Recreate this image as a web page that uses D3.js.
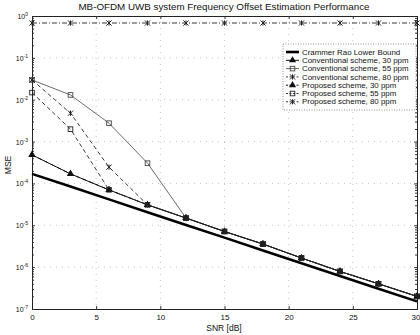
<!DOCTYPE html>
<html>
<head>
<meta charset="utf-8"/>
<title>MB-OFDM UWB</title>
<script src="https://d3js.org/d3.v7.min.js"></script>
<style>
body{margin:0;background:#fff;}
svg{font-family:"Liberation Sans",Arial,sans-serif;}
</style>
</head>
<body>
<div id="chart"></div>
<script>
var snr = [0, 3, 6, 9, 12, 15, 18, 21, 24, 27, 30];
var crb = [1.69e-4, 8.4e-5, 4.16e-5, 2.06e-5, 1.02e-5, 5.07e-6, 2.51e-6, 1.24e-6, 6.17e-7, 3.06e-7, 1.52e-7];
var conv30 = [4.8e-4, 1.69e-4, 7.0e-5, 3.08e-5, 1.49e-5, 7.1e-6, 3.56e-6, 1.65e-6, 7.9e-7, 4.0e-7, 2.0e-7];
var conv55 = [0.0297, 0.0130, 0.00275, 3.05e-4, 1.49e-5, 7.1e-6, 3.56e-6, 1.65e-6, 7.9e-7, 4.0e-7, 2.0e-7];
var conv80 = [0.68, 0.68, 0.68, 0.68, 0.68, 0.68, 0.68, 0.68, 0.68, 0.68, 0.68];
var prop30 = [4.82e-4, 1.69e-4, 7.03e-5, 3.08e-5, 1.49e-5, 7.1e-6, 3.56e-6, 1.65e-6, 7.9e-7, 4.0e-7, 2.0e-7];
var prop55 = [0.0148, 0.00198, 7.03e-5, 3.08e-5, 1.49e-5, 7.1e-6, 3.56e-6, 1.65e-6, 7.9e-7, 4.0e-7, 2.0e-7];
var prop80 = [0.0297, 0.00476, 2.45e-4, 3.08e-5, 1.49e-5, 7.1e-6, 3.56e-6, 1.65e-6, 7.9e-7, 4.0e-7, 2.0e-7];
var xTicks = [0, 5, 10, 15, 20, 25, 30];
var yExps = [0, -1, -2, -3, -4, -5, -6, -7];
var names = ["Crammer Rao Lower Bound", "Conventional scheme, 30 ppm", "Conventional scheme, 55 ppm",
	"Conventional scheme, 80 ppm", "Proposed scheme, 30 ppm", "Proposed scheme, 55 ppm", "Proposed scheme, 80 ppm"];

var W = 420, H = 335;
var L = 32, R = 417, T = 16, B = 309;

var svg = d3.select('#chart').append('svg').attr('width', W).attr('height', H);

var x = d3.scaleLinear().domain([0, 30]).range([L, R]);
var y = d3.scaleLog().domain([1e-7, 1]).range([B, T]);

// grid
var grid = svg.append('g').attr('stroke', '#aaa').attr('stroke-width', 0.7).attr('stroke-dasharray', '1,5');
xTicks.slice(1, -1).forEach(function(t){
	grid.append('line').attr('x1', x(t)).attr('x2', x(t)).attr('y1', T).attr('y2', B);
});
yExps.slice(1, -1).forEach(function(e){
	grid.append('line').attr('x1', L).attr('x2', R).attr('y1', y(Math.pow(10, e))).attr('y2', y(Math.pow(10, e)));
});

// axes
var xAxis = d3.axisBottom(x).tickValues(xTicks).tickSize(-3).tickPadding(5).tickFormat(d3.format('d'));
var gx = svg.append('g').attr('transform', 'translate(0,' + B + ')').call(xAxis);
svg.append('g').attr('transform', 'translate(0,' + T + ')').call(d3.axisTop(x).tickValues(xTicks).tickSize(-3).tickFormat(''));

var minor = [];
for (var e = -7; e < 0; e++) for (var k = 2; k < 10; k++) minor.push(k * Math.pow(10, e));
var major = yExps.map(function(e){return Math.pow(10, e);});
svg.append('g').attr('transform', 'translate(' + L + ',0)').call(d3.axisLeft(y).tickValues(major).tickSize(-3).tickFormat(''));
svg.append('g').attr('transform', 'translate(' + L + ',0)').call(d3.axisLeft(y).tickValues(minor).tickSize(-2).tickFormat(''));
svg.append('g').attr('transform', 'translate(' + R + ',0)').call(d3.axisRight(y).tickValues(major).tickSize(-3).tickFormat(''));
svg.append('g').attr('transform', 'translate(' + R + ',0)').call(d3.axisRight(y).tickValues(minor).tickSize(-2).tickFormat(''));
svg.selectAll('.domain').attr('stroke', '#222');
svg.selectAll('.tick line').attr('stroke', '#333');
gx.selectAll('text').attr('font-size', 8).attr('fill', '#111')
	.attr('text-anchor', function(d){return d === 30 ? 'end' : 'middle';})
	.attr('dx', function(d){return d === 30 ? 3 : 0;});

// y tick labels 10^e
yExps.forEach(function(e){
	var t = svg.append('text').attr('x', L - 4).attr('y', y(Math.pow(10, e)) + 3)
		.attr('text-anchor', 'end').attr('font-size', 7).attr('fill', '#111');
	t.append('tspan').text('10');
	t.append('tspan').attr('dy', -3).attr('font-size', 5).text(e);
});

// titles
svg.append('text').attr('x', 224).attr('y', 10).attr('text-anchor', 'middle').attr('font-size', 9.8).attr('fill', '#111')
	.text('MB-OFDM UWB system Frequency Offset Estimation Performance');
svg.append('text').attr('x', 224).attr('y', 331).attr('text-anchor', 'middle').attr('font-size', 8.5).attr('fill', '#111')
	.text('SNR [dB]');
svg.append('text').attr('transform', 'translate(11,165) rotate(-90)').attr('text-anchor', 'middle').attr('font-size', 8.5).attr('fill', '#111')
	.text('MSE');

// series
var series = [
	{v: crb, w: 2.6, dash: null, col: '#000', m: null},
	{v: conv30, w: 1, dash: null, col: '#111', m: 'tri'},
	{v: conv55, w: 0.8, dash: null, col: '#444', m: 'sq'},
	{v: conv80, w: 0.9, dash: '5,2,1,2', col: '#222', m: 'ast'},
	{v: prop30, w: 1, dash: '4,3', col: '#111', m: 'tri'},
	{v: prop55, w: 0.9, dash: '4,3', col: '#222', m: 'sq'},
	{v: prop80, w: 0.9, dash: '4,3', col: '#222', m: 'ast'}
];

var line = d3.line().x(function(d, i){return x(snr[i]);}).y(function(d){return y(d);});

function marker(g, type, cx, cy, col){
	if (type === 'tri'){
		g.append('path').attr('d', d3.symbol().type(d3.symbolTriangle).size(22)())
			.attr('transform', 'translate(' + cx + ',' + cy + ')').attr('fill', col);
	} else if (type === 'sq'){
		g.append('rect').attr('x', cx - 2.3).attr('y', cy - 2.3).attr('width', 4.6).attr('height', 4.6)
			.attr('fill', 'none').attr('stroke', col).attr('stroke-width', 0.9);
	} else if (type === 'ast'){
		var s = 2.6;
		g.append('path').attr('d', 'M' + (cx - s) + ',' + (cy - s) + 'L' + (cx + s) + ',' + (cy + s) +
			'M' + (cx - s) + ',' + (cy + s) + 'L' + (cx + s) + ',' + (cy - s) +
			'M' + cx + ',' + (cy - s) + 'L' + cx + ',' + (cy + s))
			.attr('stroke', col).attr('stroke-width', 1).attr('fill', 'none');
	}
}

series.forEach(function(s){
	var g = svg.append('g');
	g.append('path').datum(s.v).attr('d', line).attr('fill', 'none')
		.attr('stroke', s.col).attr('stroke-width', s.w).attr('stroke-dasharray', s.dash);
	if (s.m) s.v.forEach(function(d, i){ marker(g, s.m, x(snr[i]), y(d), s.col); });
});

// legend
var lg = svg.append('g');
lg.append('rect').attr('x', 283).attr('y', 44).attr('width', 133).attr('height', 66)
	.attr('fill', '#fff').attr('stroke', '#666').attr('stroke-width', 0.7).attr('stroke-dasharray', '1,1.5');
series.forEach(function(s, i){
	var ly = 52 + i * 8.3;
	lg.append('line').attr('x1', 286).attr('x2', 299).attr('y1', ly).attr('y2', ly)
		.attr('stroke', s.col).attr('stroke-width', s.w).attr('stroke-dasharray', s.dash ? '2,1.5' : null);
	if (s.m) marker(lg, s.m, 292.5, ly, s.col);
	lg.append('text').attr('x', 302).attr('y', ly + 2.6).attr('font-size', 7.9).attr('fill', '#111').text(names[i]);
});
</script>
</body>
</html>
